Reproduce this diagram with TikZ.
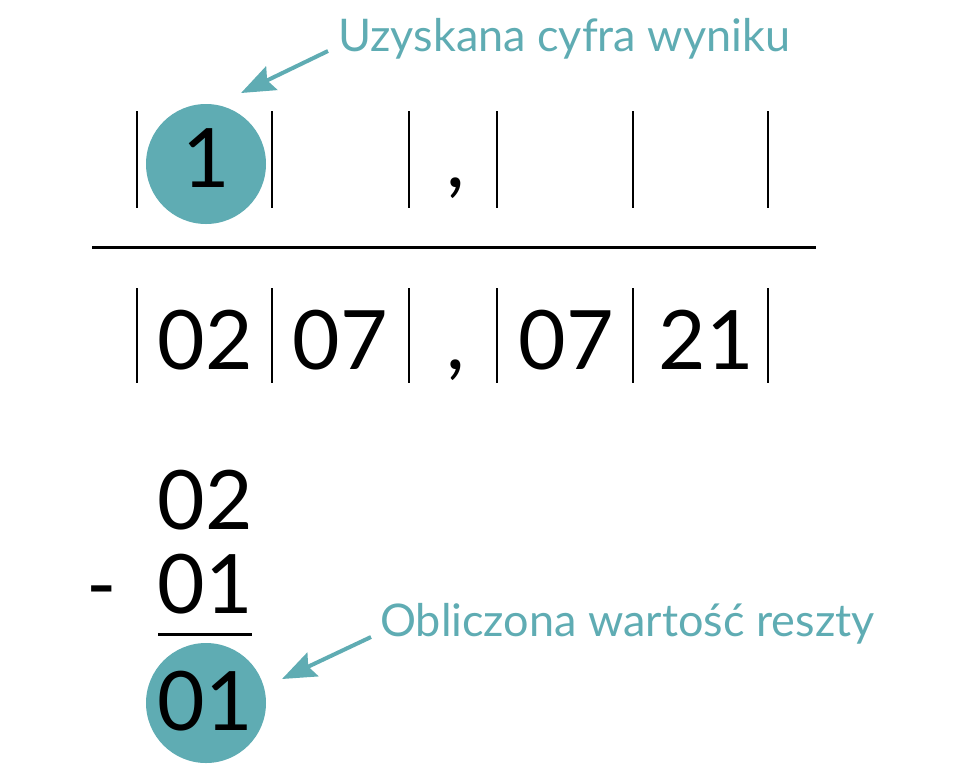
\documentclass[tikz,border=0pt]{standalone}
\usepackage{fontspec}
\setmainfont{Lato}
\usetikzlibrary{arrows.meta}
\definecolor{teal1}{RGB}{95,172,179}
\begin{document}
\begin{tikzpicture}[x=1pt,y=-1pt,
  bar/.style={line width=2.8pt},
  dig/.style={font=\fontsize{82}{82}\selectfont, anchor=base, inner sep=0pt},
  lab/.style={font=\fontsize{45}{45}\selectfont, text=teal1, anchor=base west, inner sep=0pt},
  hl/.style={fill=teal1, draw=none},
  arr/.style={teal1, line width=4pt, -{Stealth[length=34pt,width=26pt,inset=5pt]}}]
\useasboundingbox (0,0) rectangle (960,769);
% top row
\fill[hl] (206,164) circle (60);
\foreach \x [count=\i] in {137,272,409,497,633,768}{
  \draw[bar] (\x,111) -- (\x,208);
  \draw[bar] (\x,288) -- (\x,383);
}
\node[dig] (r1) at (206,187) {1};
\node[dig] (c1) at (456,187) {,};
\draw[line width=3pt] (92,247) -- (816,247);
% second row
\node[dig] (a1) at (205,369) {02};
\node[dig] (a2) at (340,369) {07};
\node[dig] (ac) at (456,369) {,};
\node[dig] (a3) at (566,369) {07};
\node[dig] (a4) at (706,369) {21};
% subtraction
\node[dig] (s1) at (205,529) {02};
\node[dig] (s2) at (205,613) {01};
\node[dig] (mn) at (102,613) {-};
\draw[line width=3pt] (158,634) -- (252,634);
\fill[hl] (206,703) circle (60);
\node[dig] (s3) at (205,730) {01};
% labels
\node[lab] (l1) at (338,51) {Uzyskana cyfra wyniku};
\node[lab] (l2) at (380,636) {Obliczona wartość reszty};
\coordinate (t1) at (241,93);
\coordinate (t2) at (282,679);
\draw[arr] (328,51) -- (t1);
\draw[arr] (371,637) -- (t2);
\end{tikzpicture}
\end{document}
